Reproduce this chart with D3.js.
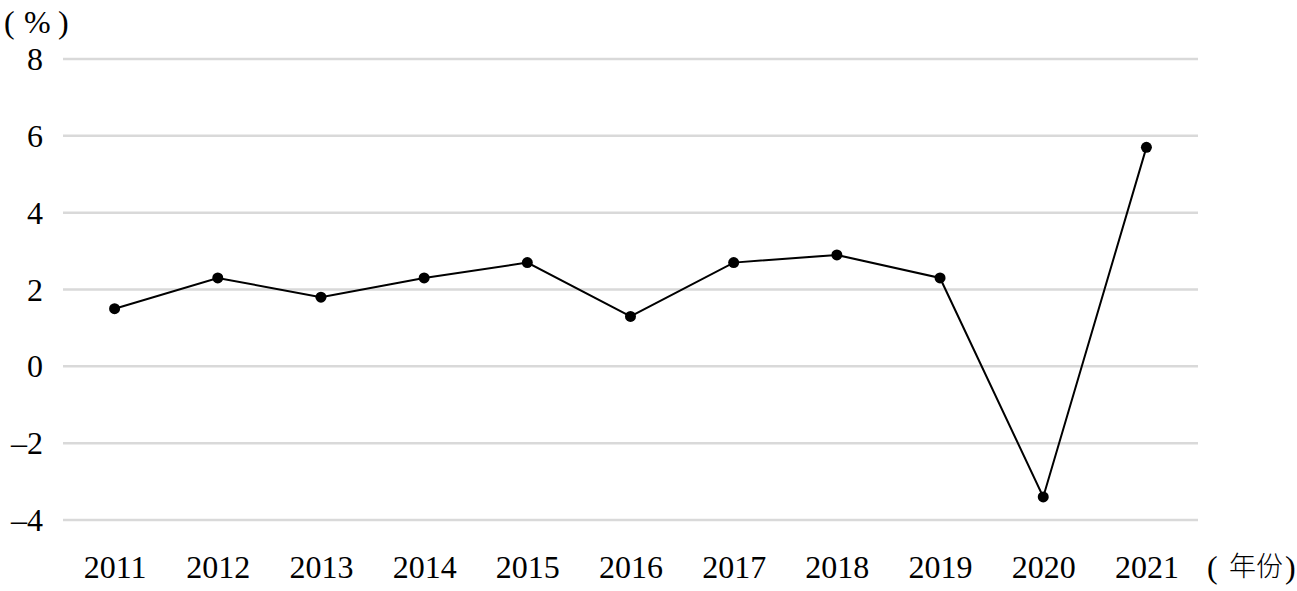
<!DOCTYPE html>
<html>
<head>
<meta charset="utf-8">
<script src="https://cdn.jsdelivr.net/npm/d3@7"></script>
<style>
  html, body { margin: 0; padding: 0; background: #fff; }
  svg { display: block; }
</style>
</head>
<body>
<svg id="chart" width="1297" height="591"></svg>
<script>
const years = ["2011","2012","2013","2014","2015","2016","2017","2018","2019","2020","2021"];
const values = [1.5, 2.3, 1.8, 2.3, 2.7, 1.3, 2.7, 2.9, 2.3, -3.4, 5.7];
const yTicks = [-4, -2, 0, 2, 4, 6, 8];
const yUnitLabel = "%";
const xUnitLabel = "年份";

const svg = d3.select("#chart");
const serif = "'Liberation Serif', 'Times New Roman', serif";

const x = d3.scalePoint().domain(years).range([63, 1198]).padding(0.5);
const y = d3.scaleLinear().domain([-4, 8]).range([520, 59]);

// gridlines
svg.append("g").selectAll("line").data(yTicks).join("line")
  .attr("x1", 63).attr("x2", 1198)
  .attr("y1", d => y(d)).attr("y2", d => y(d))
  .attr("stroke", "#d9d9d9").attr("stroke-width", 2.5);

// y axis labels
const yAxis = d3.axisLeft(y).tickValues(yTicks).tickSize(0).tickPadding(0)
  .tickFormat(d => d < 0 ? "\u2013" + Math.abs(d) : String(d));
svg.append("g").attr("transform", "translate(43,0)").call(yAxis)
  .call(g => g.select(".domain").remove())
  .call(g => g.selectAll("text").attr("font-family", serif).attr("font-size", 32)
    .attr("fill", "#000").attr("dy", "0.33em"));

// x axis labels
const xAxis = d3.axisBottom(x).tickSize(0).tickPadding(0);
svg.append("g").attr("transform", "translate(0,555)").call(xAxis)
  .call(g => g.select(".domain").remove())
  .call(g => g.selectAll("text").attr("font-family", serif).attr("font-size", 32)
    .attr("fill", "#000").attr("dy", "0.71em"));

// unit labels
const yUnit = svg.append("g").attr("font-family", serif).attr("font-size", 32).attr("fill", "#000");
yUnit.append("text").attr("x", 4).attr("y", 33).text("(");
yUnit.append("text").attr("x", 24).attr("y", 33).text(yUnitLabel);
yUnit.append("text").attr("x", 58).attr("y", 33).text(")");

const xUnit = svg.append("g").attr("fill", "#000");
xUnit.append("text").attr("x", 1207).attr("y", 578)
  .attr("font-family", serif).attr("font-size", 32).text("(");
xUnit.append("text").attr("x", 1229).attr("y", 576)
  .attr("font-family", "'Noto Sans CJK SC', sans-serif").attr("font-size", 27).attr("font-weight", 300)
  .text(xUnitLabel);
xUnit.append("text").attr("x", 1285).attr("y", 578)
  .attr("font-family", serif).attr("font-size", 32).text(")");

// line
const line = d3.line().x((d, i) => x(years[i])).y(d => y(d));
svg.append("path").datum(values)
  .attr("d", line).attr("fill", "none").attr("stroke", "#000").attr("stroke-width", 2);

// dots
svg.append("g").selectAll("circle").data(values).join("circle")
  .attr("cx", (d, i) => x(years[i])).attr("cy", d => y(d)).attr("r", 5.5).attr("fill", "#000");
</script>
</body>
</html>
